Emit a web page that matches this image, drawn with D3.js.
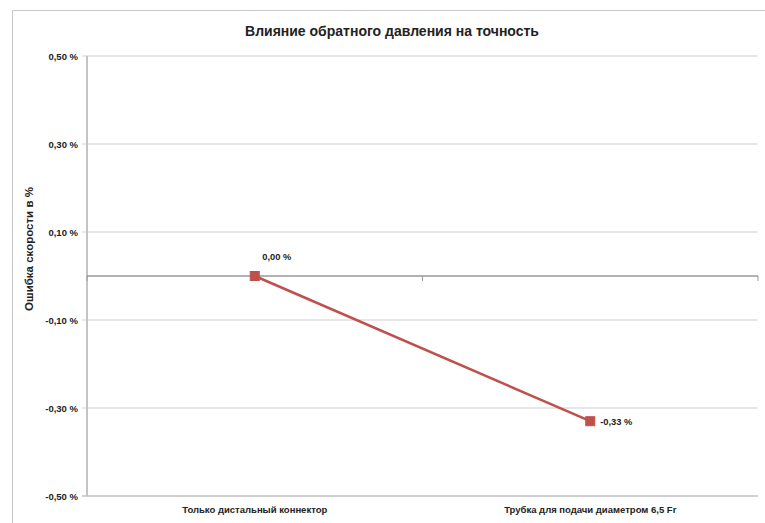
<!DOCTYPE html>
<html><head><meta charset="utf-8">
<script src="https://cdn.jsdelivr.net/npm/d3@7"></script>
<style>body{margin:0;background:#fff;} svg{display:block;font-family:"Liberation Sans",Arial,sans-serif;}</style>
</head><body>
<svg id="c" width="765" height="523"></svg>
<script>
const categories = ["Только дистальный коннектор", "Трубка для подачи диаметром 6,5 Fr"];
const values = [0.00, -0.33];
const valueLabels = ["0,00 %", "-0,33 %"];
const yTicks = [0.5, 0.3, 0.1, -0.1, -0.3, -0.5];
const yTickLabels = ["0,50 %", "0,30 %", "0,10 %", "-0,10 %", "-0,30 %", "-0,50 %"];
const title = "Влияние обратного давления на точность";
const yTitle = "Ошибка скорости в %";

const svg = d3.select("#c");
const L = 87, R = 758, T = 56, B = 496;
const x = d3.scaleBand().domain(categories).range([L, R]);
const y = d3.scaleLinear().domain([-0.5, 0.5]).range([B, T]);

// outer border
svg.append("rect").attr("x", 12.5).attr("y", 10.5).attr("width", 800).attr("height", 600)
  .attr("fill", "none").attr("stroke", "#c8c8c8").attr("stroke-width", 1);

svg.append("text").attr("x", 392).attr("y", 36).attr("text-anchor", "middle")
  .attr("font-size", 14).attr("font-weight", "bold").attr("fill", "#222").text(title);

// gridlines
svg.append("g").selectAll("line").data(yTicks).join("line")
  .attr("x1", L - 5).attr("x2", R).attr("y1", d => y(d)).attr("y2", d => y(d))
  .attr("stroke", "#cfcfcf").attr("stroke-width", d => d === -0.5 ? 2 : 1);
// y axis line
svg.append("line").attr("x1", L).attr("x2", L).attr("y1", T).attr("y2", B)
  .attr("stroke", "#c4c4c4").attr("stroke-width", 2);
// y labels
svg.append("g").selectAll("text").data(yTicks).join("text")
  .attr("x", 78).attr("y", d => y(d) + 3.5).attr("text-anchor", "end")
  .attr("font-size", 9.5).attr("font-weight", "bold").attr("fill", "#222")
  .text((d, i) => yTickLabels[i]);
// category axis at zero
svg.append("line").attr("x1", L).attr("x2", R).attr("y1", y(0)).attr("y2", y(0))
  .attr("stroke", "#999").attr("stroke-width", 1.5);
const bounds = [L, x(categories[1]), R];
svg.append("g").selectAll("line").data(bounds).join("line")
  .attr("x1", d => d).attr("x2", d => d).attr("y1", y(0)).attr("y2", y(0) + 5)
  .attr("stroke", "#999").attr("stroke-width", 1);
// category labels
svg.append("g").selectAll("text").data(categories).join("text")
  .attr("x", d => x(d) + x.bandwidth() / 2).attr("y", 513).attr("text-anchor", "middle")
  .attr("font-size", 9.5).attr("font-weight", "bold").attr("fill", "#222").text(d => d);
// y title
svg.append("text").attr("transform", "translate(33,249) rotate(-90)").attr("text-anchor", "middle")
  .attr("font-size", 11.5).attr("font-weight", "bold").attr("fill", "#222").text(yTitle);

// line
const pts = categories.map((c, i) => [x(c) + x.bandwidth() / 2, y(values[i])]);
svg.append("path").attr("d", d3.line()(pts)).attr("fill", "none")
  .attr("stroke", "#c0504d").attr("stroke-width", 2.5);
svg.append("g").selectAll("rect").data(pts).join("rect")
  .attr("x", d => d[0] - 4.5).attr("y", d => d[1] - 4.5).attr("width", 9).attr("height", 9)
  .attr("fill", "#c0504d").attr("stroke", "#c0504d");
// data labels
svg.append("text").attr("x", pts[0][0] + 22).attr("y", pts[0][1] - 16).attr("text-anchor", "middle")
  .attr("font-size", 9.3).attr("font-weight", "bold").attr("fill", "#222").text(valueLabels[0]);
svg.append("text").attr("x", pts[1][0] + 10).attr("y", pts[1][1] + 3.5).attr("text-anchor", "start")
  .attr("font-size", 9.3).attr("font-weight", "bold").attr("fill", "#222").text(valueLabels[1]);
</script>
</body></html>
